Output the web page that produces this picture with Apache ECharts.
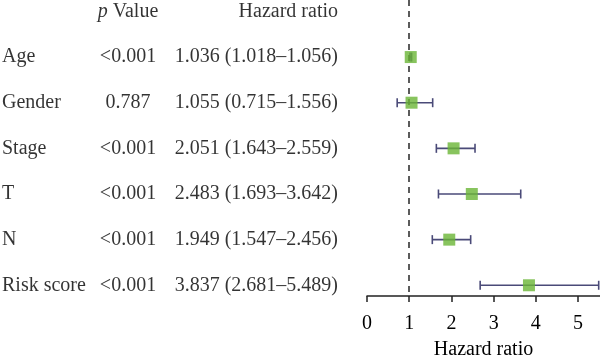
<!DOCTYPE html>
<html><head><meta charset="utf-8">
<script src="https://cdn.jsdelivr.net/npm/echarts@6/dist/echarts.min.js"></script>
<style>html,body{margin:0;padding:0;background:#fff}#c{width:600px;height:356px}</style>
</head><body><div id="c"></div>
<script>
var categories = ['Age', 'Gender', 'Stage', 'T', 'N', 'Risk score'];
var pValues = ['<0.001', '0.787', '<0.001', '<0.001', '<0.001', '<0.001'];
var hr = [1.036, 1.055, 2.051, 2.483, 1.949, 3.837];
var lower = [1.018, 0.715, 1.643, 1.693, 1.547, 2.681];
var upper = [1.056, 1.556, 2.559, 3.642, 2.456, 5.489];
var xTicks = [0, 1, 2, 3, 4, 5];
var refLine = 1;

var FONT = '"Liberation Serif", "DejaVu Serif", serif';
var FS = 20;
var TXT = '#000';
var yMin = -1.25, yMax = 5.235;
var colLabel = 2, colP = 128, colHR = 338;

var hrText = hr.map(function (v, i) {
  return v.toFixed(3) + ' (' + lower[i].toFixed(3) + '\u2013' + upper[i].toFixed(3) + ')';
});

var chart = echarts.init(document.getElementById('c'), null, {renderer: 'canvas'});

function textSeries(xpos, texts, align) {
  return {
    type: 'scatter', xAxisIndex: 1, yAxisIndex: 1, symbolSize: 0, silent: true,
    data: texts.map(function (t, i) { return {value: [xpos, i], name: t}; }),
    label: {show: true, position: 'inside', formatter: function (p) { return p.name; },
      color: TXT, fontFamily: FONT, fontSize: FS, align: align, verticalAlign: 'middle'}
  };
}

chart.setOption({
  animation: false,
  grid: [
    {left: 367, right: 0, top: 0, bottom: 60, containLabel: false, outerBoundsMode: 'none'},
    {left: 0, right: 0, top: 0, bottom: 60, containLabel: false, outerBoundsMode: 'none'}
  ],
  xAxis: [
    {type: 'value', gridIndex: 0, min: 0, max: 5.52, interval: 1,
      name: 'Hazard ratio', nameLocation: 'middle', nameGap: 44,
      nameTextStyle: {fontFamily: FONT, fontSize: FS, color: TXT},
      splitLine: {show: false},
      axisLine: {show: true, onZero: false, lineStyle: {color: '#222', width: 1.5}},
      axisTick: {show: true, inside: false, length: 6, lineStyle: {color: '#222', width: 1.5}},
      axisLabel: {fontFamily: FONT, fontSize: FS, color: TXT, margin: 18,
        showMaxLabel: false,
        formatter: function (v) { return xTicks.indexOf(v) >= 0 ? String(v) : ''; }}},
    {type: 'value', gridIndex: 1, min: 0, max: 600, show: false}
  ],
  yAxis: [
    {type: 'value', gridIndex: 0, inverse: true, min: yMin, max: yMax, show: false},
    {type: 'value', gridIndex: 1, inverse: true, min: yMin, max: yMax, show: false}
  ],
  series: [
    {
      type: 'custom', xAxisIndex: 0, yAxisIndex: 0, silent: true,
      data: categories.map(function (c, i) { return [lower[i], upper[i], i]; }),
      renderItem: function (params, api) {
        var a = api.coord([api.value(0), api.value(2)]);
        var b = api.coord([api.value(1), api.value(2)]);
        var h = 4.5;
        var st = {stroke: '#4a4a78', lineWidth: 1.6};
        return {type: 'group', children: [
          {type: 'line', shape: {x1: a[0], y1: a[1], x2: b[0], y2: b[1]}, style: st},
          {type: 'line', shape: {x1: a[0], y1: a[1] - h, x2: a[0], y2: a[1] + h}, style: st},
          {type: 'line', shape: {x1: b[0], y1: b[1] - h, x2: b[0], y2: b[1] + h}, style: st}
        ]};
      }
    },
    {
      type: 'scatter', xAxisIndex: 0, yAxisIndex: 0, symbol: 'rect', symbolSize: 12,
      itemStyle: {color: '#6ab536'}, z: 5,
      data: hr.map(function (v, i) { return [v, i]; }),
      markLine: {silent: true, symbol: 'none', label: {show: false},
        lineStyle: {color: '#333', type: [6, 5], width: 1.6},
        data: [{xAxis: refLine}]}
    },
    textSeries(colLabel, categories, 'left'),
    textSeries(colP, pValues, 'center'),
    textSeries(colHR, hrText, 'right'),
    {
      type: 'scatter', xAxisIndex: 1, yAxisIndex: 1, symbolSize: 0, silent: true,
      data: [
        {value: [colP, -1], name: 'p', label: {align: 'center'}},
        {value: [colHR, -1], name: 'h', label: {align: 'right'}}
      ],
      label: {show: true, position: 'inside', color: TXT, fontFamily: FONT, fontSize: FS,
        verticalAlign: 'middle',
        formatter: function (p) { return p.name === 'p' ? '{i|p} Value' : 'Hazard ratio'; },
        rich: {i: {fontStyle: 'italic', fontFamily: FONT, fontSize: FS, color: TXT}}}
    }
  ]
});
</script></body></html>
